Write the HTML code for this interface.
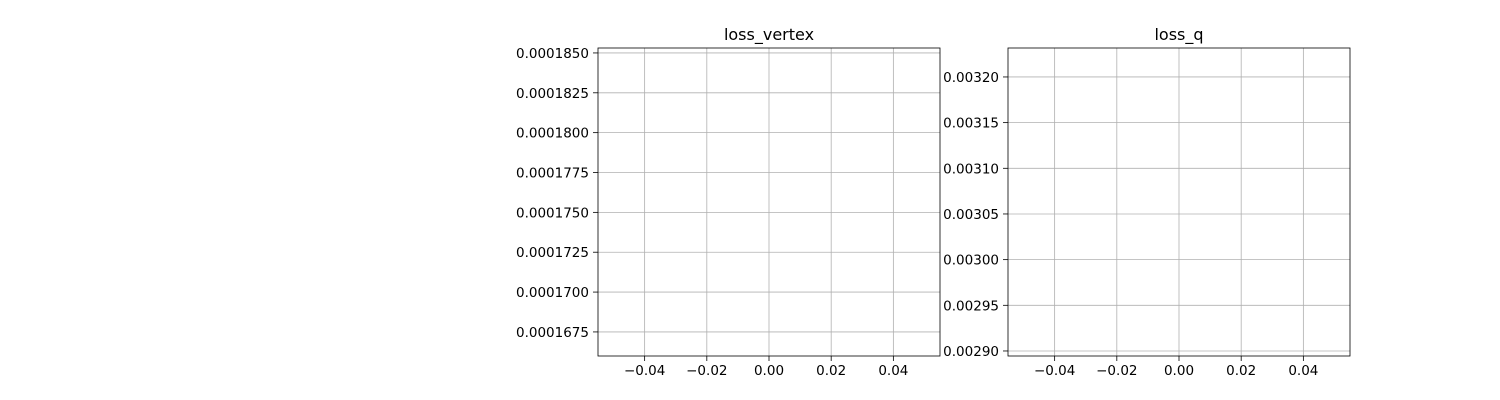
<!DOCTYPE html>
<html><head><meta charset="utf-8"><style>
html,body{margin:0;padding:0;background:#fff;}
svg{display:block;font-family:"DejaVu Sans","Liberation Sans",sans-serif;}
</style></head><body>
<svg id="fig" width="1500" height="400" viewBox="0 0 1500 400"></svg>
<script>
const xTicks = [-0.04, -0.02, 0.00, 0.02, 0.04];
const xTickLabels = ["\u22120.04", "\u22120.02", "0.00", "0.02", "0.04"];
const vertexTicks = [0.0001675, 0.0001700, 0.0001725, 0.0001750, 0.0001775, 0.0001800, 0.0001825, 0.0001850];
const vertexTickLabels = ["0.0001675","0.0001700","0.0001725","0.0001750","0.0001775","0.0001800","0.0001825","0.0001850"];
const qTicks = [0.00290, 0.00295, 0.00300, 0.00305, 0.00310, 0.00315, 0.00320];
const qTickLabels = ["0.00290","0.00295","0.00300","0.00305","0.00310","0.00315","0.00320"];
const vertexValues = [];
const qValues = [];

const NS = "http://www.w3.org/2000/svg";
const svg = document.getElementById('fig');
function mk(tag, attrs, parent){
  const e = document.createElementNS(NS, tag);
  for (const k in attrs) e.setAttribute(k, attrs[k]);
  (parent||svg).appendChild(e);
  return e;
}
function panel(cfg){
  const g = mk('g', {});
  
  
  const L = cfg.x0, R = cfg.x1, T = 48, B = 356;
  const xs = v => L + (v - (-0.055)) / 0.11 * (R - L);
  const ys = v => B - (v - cfg.ymin) / (cfg.ymax - cfg.ymin) * (B - T);
  xTicks.forEach((t, i) => {
    const x = xs(t);
    const gl = mk('line', {x1:x, x2:x, y1:T, y2:B, stroke:'#b0b0b0', 'stroke-width':0.8}, g);
    
    
    mk('line', {x1:x, x2:x, y1:B, y2:B+5, stroke:'#000', 'stroke-width':0.8}, g);
    const tx = mk('text', {x:x, y:B+19, 'text-anchor':'middle', 'font-size':13.5, fill:'#000'}, g);
    tx.textContent = xTickLabels[i];
    
    
  });
  cfg.ticks.forEach((t, i) => {
    const y = ys(t);
    const gl = mk('line', {x1:L, x2:R, y1:y, y2:y, stroke:'#b0b0b0', 'stroke-width':0.8}, g);
    
    
    mk('line', {x1:L-5, x2:L, y1:y, y2:y, stroke:'#000', 'stroke-width':0.8}, g);
    const tx = mk('text', {x:L-9, y:y+5, 'text-anchor':'end', 'font-size':13.5, fill:'#000'}, g);
    tx.textContent = cfg.labels[i];
    
    
  });
  cfg.values.forEach((v, i) => {
    const c = mk('circle', {cx:xs(0), cy:ys(v), r:2, fill:'#1f77b4'}, g);
    
    
  });
  const fr = mk('rect', {x:L, y:T, width:R-L, height:B-T, fill:'none', stroke:'#000', 'stroke-width':0.8}, g);
  
  
  const ti = mk('text', {x:(L+R)/2, y:T-8, 'text-anchor':'middle', 'font-size':16, fill:'#000'}, g);
  ti.textContent = cfg.title;
  
  
}
panel({name:'loss-vertex-panel', title:'loss_vertex', x0:598, x1:940,
  ymin:0.00016599, ymax:0.00018531, ticks:vertexTicks, labels:vertexTickLabels, values:vertexValues});
panel({name:'loss-q-panel', title:'loss_q', x0:1008, x1:1350,
  ymin:0.0028945, ymax:0.0032317, ticks:qTicks, labels:qTickLabels, values:qValues});
</script>
</body></html>
